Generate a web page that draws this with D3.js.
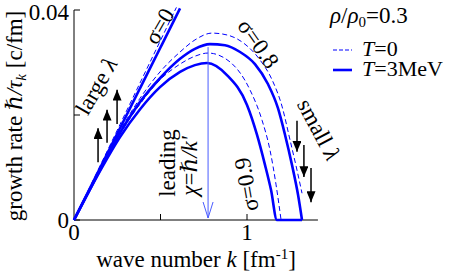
<!DOCTYPE html>
<html>
<head>
<meta charset="utf-8">
<script src="https://cdn.jsdelivr.net/npm/d3@7"></script>
<style>
  body { margin: 0; background: #fff; }
  text { font-family: "Liberation Serif", "DejaVu Serif", serif; }
</style>
</head>
<body>
<div id="container"></div>
<script>
/* CONSTANTS AND GLOBALS */
const width = 457,
  height = 271,
  fontSize = 23;

const blue = "#0000ff";

/* DATA */
// sigma = 0, straight lines
const sig0T3 = [[0, 0], [0.613, 0.0403]];
const sig0T0 = [[0, 0], [0.592, 0.0405]];

// sigma = 0.8
const sig08T3 = [[0, 0], [0.15, 0.0095], [0.266, 0.0166], [0.382, 0.0225], [0.497, 0.0270], [0.613, 0.0307],
  [0.699, 0.0326], [0.786, 0.0335], [0.873, 0.0333], [0.96, 0.0320], [1.046, 0.0297], [1.121, 0.0259],
  [1.179, 0.0213], [1.22, 0.0162], [1.26, 0.0105], [1.295, 0.0048], [1.318, 0]];
const sig08T0 = [[0, 0], [0.15, 0.0097], [0.266, 0.0170], [0.382, 0.0232], [0.497, 0.0282], [0.613, 0.0320],
  [0.699, 0.0343], [0.798, 0.0356], [0.89, 0.0352], [0.988, 0.0335], [1.075, 0.0305], [1.145, 0.0267],
  [1.202, 0.0217], [1.249, 0.0152], [1.289, 0.0095], [1.318, 0.0051]];

// sigma = 0.9
const sig09T3 = [[0, 0], [0.15, 0.0093], [0.266, 0.0158], [0.382, 0.0211], [0.497, 0.0253], [0.613, 0.0282],
  [0.699, 0.0295], [0.769, 0.0299], [0.884, 0.0276], [1.0, 0.0219], [1.058, 0.0162], [1.104, 0.0105],
  [1.139, 0.0057], [1.173, 0], [1.318, 0]];
const sig09T0 = [[0, 0], [0.15, 0.0095], [0.266, 0.0164], [0.382, 0.0221], [0.497, 0.0267], [0.613, 0.0297],
  [0.699, 0.0312], [0.775, 0.0318], [0.902, 0.0301], [1.017, 0.0248], [1.087, 0.0190], [1.133, 0.0133],
  [1.168, 0.0067], [1.197, 0]];

const leadingK = 0.775;
const yTicks = [0, 0.02, 0.04];
const yTickLabels = { 0: "0", 0.04: "0.04" };
const xTicks = [0.5, 1];
const xTickValues = [0, 1];

// arrows: [k, gammaFrom, gammaTo]
const largeArrows = [[0.139, 0.0110, 0.0175], [0.191, 0.0147, 0.0210], [0.249, 0.0183, 0.0248]];
const smallArrows = [[1.289, 0.0189, 0.0130], [1.329, 0.0143, 0.0082], [1.370, 0.0099, 0.0034]];

/* SCALES */
const xScale = d3.scaleLinear().domain([0, 1]).range([74, 247]);
const yScale = d3.scaleLinear().domain([0, 0.04]).range([220, 10]);

const svg = d3.select("#container").append("svg")
  .attr("width", width)
  .attr("height", height);

svg.append("defs").append("marker")
  .attr("id", "head")
  .attr("viewBox", "0 0 12 10")
  .attr("refX", 12).attr("refY", 5)
  .attr("markerUnits", "userSpaceOnUse")
  .attr("markerWidth", 12).attr("markerHeight", 9)
  .attr("orient", "auto")
  .append("path").attr("d", "M0,0 L12,5 L0,10 Z").attr("fill", "#000");

/* AXES */
svg.append("line").attr("x1", xScale(0)).attr("x2", xScale(0))
  .attr("y1", yScale(0)).attr("y2", yScale(0.04)).attr("stroke", "#000");
svg.append("line").attr("x1", xScale(0)).attr("x2", xScale(1.41))
  .attr("y1", yScale(0)).attr("y2", yScale(0)).attr("stroke", "#000");

svg.selectAll(".ytick").data(yTicks).join("line")
  .attr("x1", xScale(0)).attr("x2", xScale(0) + 6)
  .attr("y1", d => yScale(d)).attr("y2", d => yScale(d))
  .attr("stroke", "#000");
svg.selectAll(".xtick").data(xTicks).join("line")
  .attr("x1", d => xScale(d)).attr("x2", d => xScale(d))
  .attr("y1", yScale(0)).attr("y2", yScale(0) - 6)
  .attr("stroke", "#000");

svg.selectAll(".ylab").data(yTicks.filter(d => yTickLabels[d])).join("text")
  .attr("x", xScale(0) - 5)
  .attr("y", d => yScale(d) + (d ? 10 : 8))
  .attr("text-anchor", "end")
  .attr("font-size", fontSize)
  .text(d => yTickLabels[d]);
svg.selectAll(".xlab").data(xTickValues).join("text")
  .attr("x", d => xScale(d))
  .attr("y", yScale(0) + 20)
  .attr("text-anchor", "middle")
  .attr("font-size", fontSize)
  .text(d => d);

// x label
const xl = svg.append("text").attr("x", 196).attr("y", 267)
  .attr("text-anchor", "middle").attr("font-size", fontSize);
xl.append("tspan").text("wave number ");
xl.append("tspan").attr("font-style", "italic").text("k");
xl.append("tspan").text(" [fm");
xl.append("tspan").attr("dy", -8).attr("font-size", 15).text("-1");
xl.append("tspan").attr("dy", 8).text("]");

// y label
const yl = svg.append("text").attr("transform", "translate(22,116) rotate(-90)")
  .attr("text-anchor", "middle").attr("font-size", fontSize);
yl.append("tspan").text("growth rate ");
yl.append("tspan").attr("font-style", "italic").text("ℏ/τ");
yl.append("tspan").attr("font-style", "italic").attr("dy", 4).attr("font-size", 15).text("k");
yl.append("tspan").attr("dy", -4).text(" [c/fm]");

/* CURVES */
const line = d3.line().x(d => xScale(d[0])).y(d => yScale(d[1])).curve(d3.curveMonotoneX);

const series = [
  { data: sig0T0, dash: true }, { data: sig08T0, dash: true }, { data: sig09T0, dash: true },
  { data: sig0T3, dash: false }, { data: sig08T3, dash: false }, { data: sig09T3, dash: false }
];
svg.selectAll(".curve").data(series).join("path")
  .attr("d", d => line(d.data))
  .attr("fill", "none")
  .attr("stroke", blue)
  .attr("stroke-width", d => d.dash ? 1 : 2.6)
  .attr("stroke-dasharray", d => d.dash ? "5,3" : null);

// leading arrow
const peak = d3.max(sig08T3, d => d[1]);
svg.append("line")
  .attr("x1", xScale(leadingK)).attr("x2", xScale(leadingK))
  .attr("y1", yScale(peak) + 3).attr("y2", yScale(0) - 2)
  .attr("stroke", "#4a5cff").attr("stroke-width", 1);
svg.append("path")
  .attr("d", `M${xScale(leadingK) - 5},${yScale(0) - 18} L${xScale(leadingK)},${yScale(0) - 2} L${xScale(leadingK) + 5},${yScale(0) - 18}`)
  .attr("fill", "none").attr("stroke", "#4a5cff").attr("stroke-width", 1);

// black arrows
svg.selectAll(".arrow").data(largeArrows.concat(smallArrows)).join("line")
  .attr("x1", d => xScale(d[0])).attr("x2", d => xScale(d[0]))
  .attr("y1", d => yScale(d[1])).attr("y2", d => yScale(d[2]))
  .attr("stroke", "#000").attr("stroke-width", 1.5)
  .attr("marker-end", "url(#head)");

/* ANNOTATIONS */
function rotText(x, y, angle, parts) {
  const t = svg.append("text").attr("transform", `translate(${x},${y}) rotate(${angle})`)
    .attr("text-anchor", "middle").attr("font-size", fontSize);
  parts.forEach(p => {
    const s = t.append("tspan").text(p.t);
    if (p.i) s.attr("font-style", "italic");
  });
  return t;
}
rotText(166, 30, -60, [{ t: "σ=0" }]);
rotText(252, 48, 55, [{ t: "σ=0.8" }]);
rotText(254, 183, -100, [{ t: "σ=0.9" }]);
rotText(103, 90, -60, [{ t: "large " }, { t: "λ", i: true }]);
rotText(312, 133, 62, [{ t: "small " }, { t: "λ", i: true }]);
rotText(175, 163, -90, [{ t: "leading" }]);
rotText(197, 166, -90, [{ t: "χ", i: true }, { t: "=" }, { t: "ℏ/k'", i: true }]);

/* LEGEND */
const lt = svg.append("text").attr("x", 330).attr("y", 23).attr("font-size", fontSize);
lt.append("tspan").attr("font-style", "italic").text("ρ");
lt.append("tspan").text("/");
lt.append("tspan").attr("font-style", "italic").text("ρ");
lt.append("tspan").attr("dy", 4).attr("font-size", 15).text("0");
lt.append("tspan").attr("dy", -4).text("=0.3");

const legendItems = [
  { label: "0", dash: true },
  { label: "3MeV", dash: false }
];
legendItems.forEach((d, i) => {
  const y = 50 + i * 20;
  svg.append("line").attr("x1", 333).attr("x2", 352).attr("y1", y).attr("y2", y)
    .attr("stroke", blue).attr("stroke-width", d.dash ? 1 : 2.6)
    .attr("stroke-dasharray", d.dash ? "4,2" : null);
  const t = svg.append("text").attr("x", 362).attr("y", y + 6).attr("font-size", fontSize - 1);
  t.append("tspan").attr("font-style", "italic").text("T");
  t.append("tspan").text("=" + d.label);
});
</script>
</body>
</html>
